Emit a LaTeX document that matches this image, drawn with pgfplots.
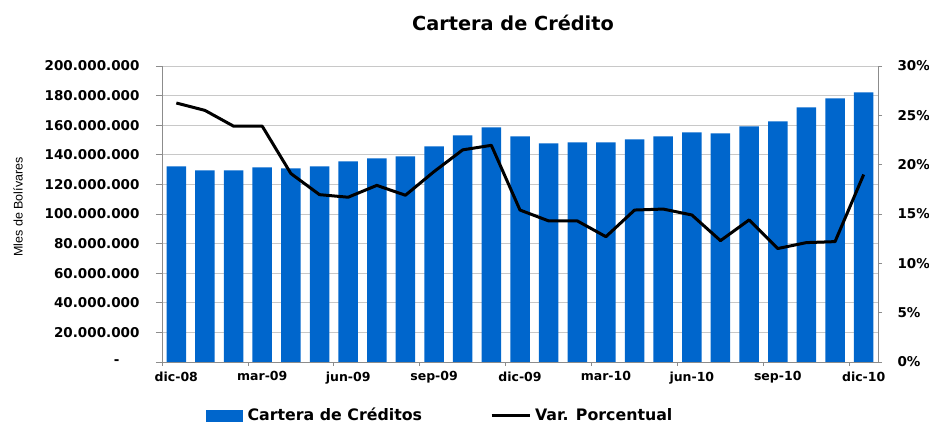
\documentclass[border=0pt]{standalone}
\usepackage{pgfplots}
\pgfplotsset{compat=1.18}
\usepackage{fontspec}
\setmainfont{DejaVu Sans}
\newfontfamily\labfont{Liberation Sans}
\definecolor{barblue}{RGB}{0,102,204}
\definecolor{gridgray}{RGB}{200,200,200}
\definecolor{axgray}{RGB}{140,140,140}
\begin{document}
\begin{tikzpicture}
\path[use as bounding box] (0,0) rectangle (929pt,425pt);
\node[anchor=base, font=\bfseries\fontsize{19.3}{22}\selectfont] at (513pt,394pt) {Cartera de Crédito};
\node[anchor=base, rotate=90, font=\labfont\fontsize{12.5}{14}\selectfont] at (22.5pt,218pt) {Mles de Bolívares};
\begin{axis}[
  at={(162pt,63pt)}, anchor=south west,
  scale only axis, width=716pt, height=296pt,
  xmin=-0.5, xmax=24.5, ymin=0, ymax=200000000,
  axis x line*=bottom, axis y line*=left,
  axis line style={axgray, line width=0.8pt, -},
  tick align=outside,
  major tick length=6pt, minor tick length=4pt,
  tick style={axgray, line width=0.8pt},
  major x tick style={draw=none},
  xtick={0,3,6,9,12,15,18,21,24},
  xticklabels={dic-08,mar-09,jun-09,sep-09,dic-09,mar-10,jun-10,sep-10,dic-10},
  minor xtick={-0.5,2.5,5.5,8.5,11.5,14.5,17.5,20.5,23.5},
  ytick={0,20000000,40000000,60000000,80000000,100000000,120000000,140000000,160000000,180000000,200000000},
  yticklabels={{-\hspace*{20pt}},20.000.000,40.000.000,60.000.000,80.000.000,100.000.000,120.000.000,140.000.000,160.000.000,180.000.000,200.000.000},
  ymajorgrids, grid style={gridgray, line width=0.8pt},
  yticklabel style={font=\bfseries\fontsize{13.5}{16}\selectfont, xshift=-13pt},
  xticklabel style={font=\bfseries\fontsize{12.5}{15}\selectfont},
  scaled y ticks=false,
  clip=false,
]
\addplot[ybar, bar width=19.5pt, fill=barblue, draw=none] coordinates {
(0,132200000) (1,129500000) (2,129500000) (3,131500000) (4,130900000)
(5,132200000) (6,135600000) (7,137600000) (8,139000000) (9,145700000)
(10,153200000) (11,158600000) (12,152500000) (13,147700000) (14,148400000)
(15,148400000) (16,150500000) (17,152500000) (18,155200000) (19,154500000)
(20,159200000) (21,162600000) (22,172100000) (23,178200000) (24,182200000)
};
\end{axis}
\begin{axis}[
  at={(162pt,63pt)}, anchor=south west,
  scale only axis, width=716pt, height=296pt,
  xmin=-0.5, xmax=24.5, ymin=0, ymax=30,
  axis x line=none, axis y line*=right,
  axis line style={axgray, line width=0.8pt, -},
  tick align=outside, major tick length=4pt,
  tick style={axgray, line width=0.8pt},
  ytick={0,5,10,15,20,25,30},
  yticklabels={0\%,5\%,10\%,15\%,20\%,25\%,30\%},
  yticklabel style={font=\bfseries\fontsize{13.5}{16}\selectfont, xshift=12pt},
  legend columns=2,
  legend style={at={(0.0615,-0.18)}, anchor=west, draw=none, fill=none,
    inner sep=0pt, font=\bfseries\fontsize{15.8}{18}\selectfont,
    nodes={inner sep=2pt},
    /tikz/every even column/.append style={column sep=66pt}},
  legend cell align=left,
  clip=false,
]
\addlegendimage{legend image code/.code={\fill[barblue] (0pt,-5.5pt) rectangle (36pt,5.5pt);}}
\addlegendentry{\hspace*{3pt}Cartera de Créditos}
\addplot[black, line width=3pt, line join=round,
  legend image code/.code={\draw[black, line width=3pt] (0pt,0pt) -- (38pt,0pt);}] coordinates {
(0,26.25) (1,25.5) (2,23.9) (3,23.9) (4,19.1) (5,16.96) (6,16.7) (7,17.9)
(8,16.9) (9,19.3) (10,21.5) (11,21.96) (12,15.4) (13,14.3) (14,14.3)
(15,12.7) (16,15.4) (17,15.5) (18,14.9) (19,12.3) (20,14.4) (21,11.5)
(22,12.1) (23,12.2) (24,19.0)
};
\addlegendentry{\hspace*{2pt}Var. Porcentual}
\end{axis}
\end{tikzpicture}
\end{document}
